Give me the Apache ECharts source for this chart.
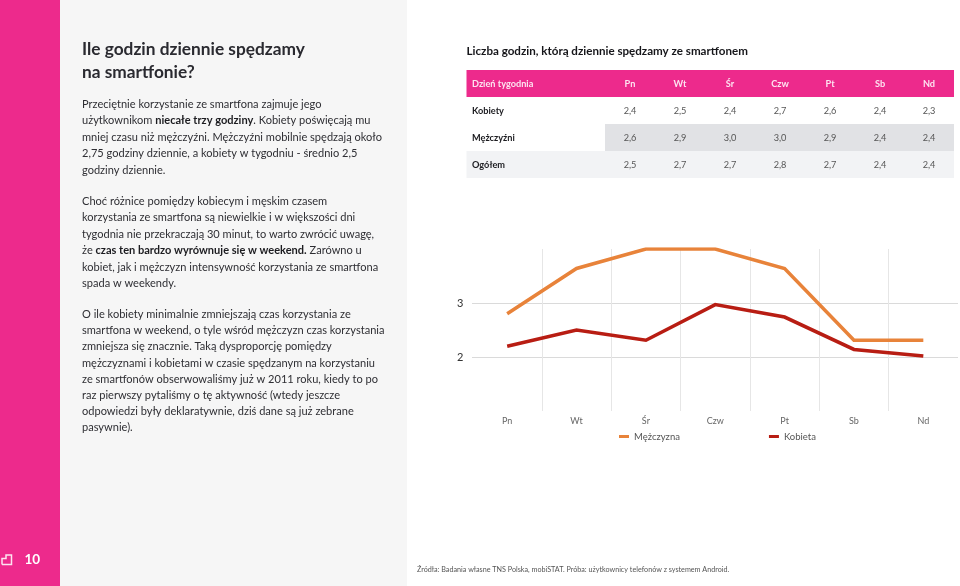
<!DOCTYPE html>
<html><head><meta charset="utf-8">
<style>html,body{margin:0;padding:0;background:#fff}#c{width:960px;height:586px}</style>
<script src="https://cdn.jsdelivr.net/npm/echarts@6/dist/echarts.min.js"></script>
</head><body><div id="c"></div>
<script>
const days = ['Pn','Wt','Śr','Czw','Pt','Sb','Nd'];
const menLine = [2.8,3.64,4.0,4.0,3.64,2.31,2.31];
const womenLine = [2.2,2.5,2.31,2.97,2.74,2.14,2.02];
const yShown = [2,3];
const tableHead = ['Dzień tygodnia'].concat(days);
const rowWomen = ['Kobiety','2,4','2,5','2,4','2,7','2,6','2,4','2,3'];
const rowMen = ['Mężczyźni','2,6','2,9','3,0','3,0','2,9','2,4','2,4'];
const rowAll = ['Ogółem','2,5','2,7','2,7','2,8','2,7','2,4','2,4'];
const titleLines = ['Ile godzin dziennie spędzamy','na smartfonie?'];
const para1 = ['Przeciętnie korzystanie ze smartfona zajmuje jego',
 'użytkownikom {b|niecałe trzy godziny}. Kobiety poświęcają mu',
 'mniej czasu niż mężczyźni. Mężczyźni mobilnie spędzają około',
 '2,75 godziny dziennie, a kobiety w tygodniu - średnio 2,5',
 'godziny dziennie.'];
const para2 = ['Choć różnice pomiędzy kobiecym i męskim czasem',
 'korzystania ze smartfona są niewielkie i w większości dni',
 'tygodnia nie przekraczają 30 minut, to warto zwrócić uwagę,',
 'że {b|czas ten bardzo wyrównuje się w weekend.} Zarówno u',
 'kobiet, jak i mężczyzn intensywność korzystania ze smartfona',
 'spada w weekendy.'];
const para3 = ['O ile kobiety minimalnie zmniejszają czas korzystania ze',
 'smartfona w weekend, o tyle wśród mężczyzn czas korzystania',
 'zmniejsza się znacznie. Taką dysproporcję pomiędzy',
 'mężczyznami i kobietami w czasie spędzanym na korzystaniu',
 'ze smartfonów obserwowaliśmy już w 2011 roku, kiedy to po',
 'raz pierwszy pytaliśmy o tę aktywność (wtedy jeszcze',
 'odpowiedzi były deklaratywnie, dziś dane są już zebrane',
 'pasywnie).'];
const tableTitle = 'Liczba godzin, którą dziennie spędzamy ze smartfonem';
const footnote = 'Źródła: Badania własne TNS Polska, mobiSTAT. Próba: użytkownicy telefonów z systemem Android.';
const pageNo = '10';

const FONT = 'Lato, "Open Sans", sans-serif';
const PINK = '#ED2A8C';
const g = [];
const rect = (x,y,w,h,fill) => g.push({type:'rect',silent:true,shape:{x,y,width:w,height:h},style:{fill}});
const text = (x,y,t,o={}) => g.push({type:'text',silent:true,x,y,style:Object.assign({
  text:t,fill:'#2b2b2b',font:'12px '+FONT,textVerticalAlign:'middle',verticalAlign:'middle'},o)});

rect(0,0,60,586,PINK);
rect(60,0,347,586,'#F6F6F6');
rect(466.5,70,487.5,27,PINK);
rect(605,124,349,27,'#E1E2E5');
rect(466.5,151,487.5,27,'#F2F3F5');

titleLines.forEach((l,i)=>text(82,49+i*23,l,{font:'bold 17.3px '+FONT,fill:'#2a2a30'}));
const body = (lines,y0,st)=>lines.forEach((l,i)=>text(82,y0+i*st,l,{
  font:'11.05px '+FONT,fill:'#2e2e33',rich:{b:{font:'bold 11.05px '+FONT,fill:'#1c1c20'}}}));
body(para1,104.5,16.4);
body(para2,201.5,16.4);
body(para3,314.5,16.2);

text(466.5,51.5,tableTitle,{font:'bold 11.6px '+FONT,fill:'#16161a'});
const colX = [630,680,730,780,830,880,929];
const drawRow = (row,y,isHead)=>{
  text(472,y,row[0],{font:'bold 9.2px '+FONT,fill:isHead?'#fde3f0':'#1c1c20'});
  colX.forEach((x,i)=>text(x,y,row[i+1],{align:'center',textAlign:'center',
    font:(isHead?'bold ':'')+'9.2px '+FONT,fill:isHead?'#fde3f0':'#555'}));
};
drawRow(tableHead,84,true);
drawRow(rowWomen,111,false);
drawRow(rowMen,138,false);
drawRow(rowAll,165,false);

text(417,570,footnote,{font:'7.2px '+FONT,fill:'#555'});
text(24.5,560,pageNo,{font:'bold 13.5px '+FONT,fill:'#fff'});
g.push({type:'polyline',silent:true,shape:{points:[[2,564.5],[2,558.5],[6,558.5],[6,555],[11.5,555],[11.5,564.5],[2,564.5]]},
  style:{fill:'none',stroke:'#fde3f0',lineWidth:1.5}});

const chart = echarts.init(document.getElementById('c'),null,{renderer:'canvas'});
chart.setOption({
  animation:false,
  backgroundColor:'#fff',
  textStyle:{fontFamily:FONT},
  graphic:{elements:g},
  grid:{left:472.5,right:2,top:249,bottom:175,containLabel:false},
  legend:{left:614,top:426.5,itemWidth:10,itemHeight:3,itemGap:89,icon:'rect',
    textStyle:{fontSize:9.5,color:'#555',fontFamily:FONT},
    data:['Mężczyzna','Kobieta']},
  xAxis:{type:'category',data:days,boundaryGap:true,
    axisLine:{show:false},axisTick:{show:false},
    axisLabel:{fontSize:9,color:'#666',margin:6,interval:0,fontFamily:FONT},
    splitLine:{show:true,interval:0,showMinLine:false,showMaxLine:false,lineStyle:{color:'#E6E6E6',width:1}}},
  yAxis:{type:'value',min:1,max:4,interval:1,
    axisLine:{show:false},axisTick:{show:false},
    axisLabel:{fontSize:11,color:'#333',margin:9,fontFamily:FONT,
      formatter:v=>yShown.includes(v)?String(v):''},
    splitLine:{show:true,showMinLine:false,showMaxLine:false,lineStyle:{color:'#B5B5B5',width:1,type:[1,1]}}},
  series:[
    {name:'Mężczyzna',type:'line',data:menLine,symbol:'none',lineStyle:{color:'#E8833A',width:3.5,cap:'butt',join:'miter'},itemStyle:{color:'#E8833A'}},
    {name:'Kobieta',type:'line',data:womenLine,symbol:'none',lineStyle:{color:'#B81D13',width:3.5,cap:'butt',join:'miter'},itemStyle:{color:'#B81D13'}}
  ]
});
</script></body></html>
